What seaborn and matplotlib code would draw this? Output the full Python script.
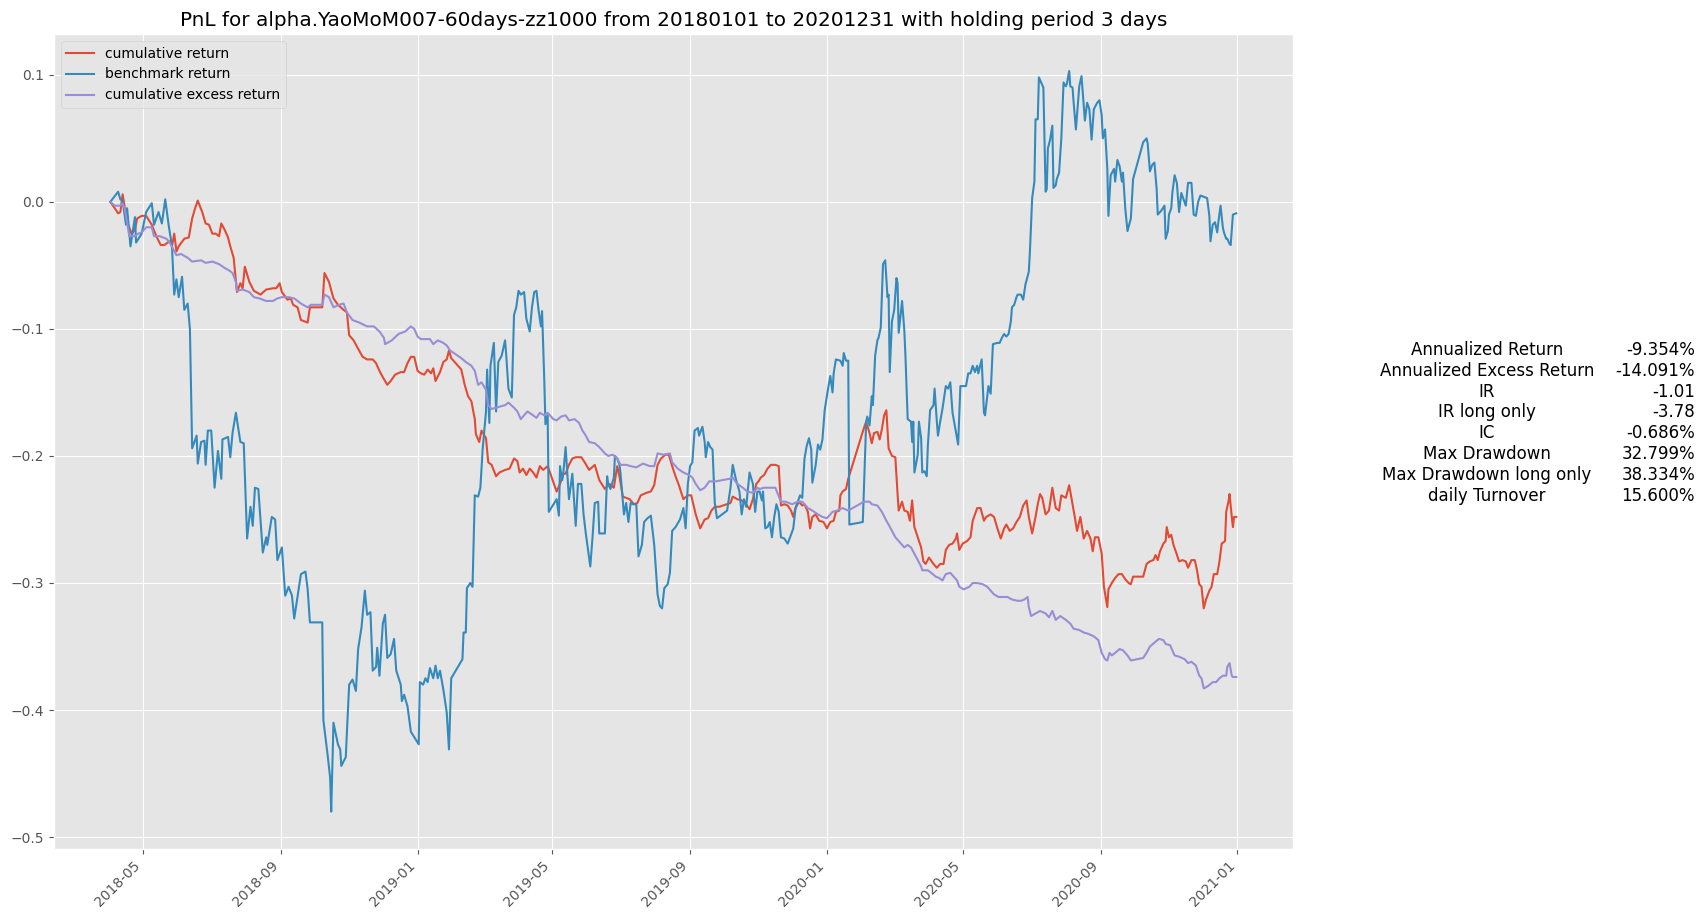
import pandas as pd
import matplotlib
matplotlib.use('Agg')
import matplotlib.pyplot as plt
import matplotlib.dates as mdates
import seaborn as sns

# values
bench_2018 = [
    ("2018-04-02", 0.0), ("2018-04-09", 0.008), ("2018-04-11", 0.002), ("2018-04-13", 0.001),
    ("2018-04-16", -0.018), ("2018-04-17", -0.005), ("2018-04-20", -0.035), ("2018-04-24", -0.012),
    ("2018-04-25", -0.032), ("2018-04-30", -0.025), ("2018-05-04", -0.008), ("2018-05-09", -0.001),
    ("2018-05-11", -0.018), ("2018-05-15", -0.008), ("2018-05-18", -0.017), ("2018-05-21", 0.002),
    ("2018-05-24", -0.018), ("2018-05-27", -0.035), ("2018-05-29", -0.073), ("2018-05-31", -0.061),
    ("2018-06-02", -0.075), ("2018-06-05", -0.059), ("2018-06-07", -0.085), ("2018-06-10", -0.080),
    ("2018-06-12", -0.100), ("2018-06-14", -0.194), ("2018-06-18", -0.184), ("2018-06-19", -0.206),
    ("2018-06-22", -0.189), ("2018-06-25", -0.188), ("2018-06-26", -0.207), ("2018-06-28", -0.180),
    ("2018-07-01", -0.180), ("2018-07-04", -0.225), ("2018-07-07", -0.196), ("2018-07-10", -0.218),
    ("2018-07-11", -0.187), ("2018-07-16", -0.185), ("2018-07-18", -0.201), ("2018-07-20", -0.182),
    ("2018-07-23", -0.166), ("2018-07-27", -0.189), ("2018-07-30", -0.190), ("2018-08-02", -0.265),
    ("2018-08-05", -0.240), ("2018-08-07", -0.255), ("2018-08-09", -0.225), ("2018-08-12", -0.226),
    ("2018-08-16", -0.276), ("2018-08-19", -0.264), ("2018-08-20", -0.270), ("2018-08-24", -0.248),
    ("2018-08-27", -0.250), ("2018-08-29", -0.282), ("2018-09-02", -0.272), ("2018-09-05", -0.310),
    ("2018-09-08", -0.303), ("2018-09-11", -0.310), ("2018-09-13", -0.328), ("2018-09-19", -0.293),
    ("2018-09-23", -0.291), ("2018-09-25", -0.305), ("2018-09-27", -0.331), ("2018-10-08", -0.331),
    ("2018-10-09", -0.408), ("2018-10-13", -0.437), ("2018-10-15", -0.453), ("2018-10-16", -0.480),
    ("2018-10-18", -0.410), ("2018-10-22", -0.427), ("2018-10-24", -0.431), ("2018-10-25", -0.444),
    ("2018-10-29", -0.437), ("2018-10-30", -0.417), ("2018-11-01", -0.380), ("2018-11-04", -0.376),
    ("2018-11-07", -0.385), ("2018-11-09", -0.352), ("2018-11-12", -0.335), ("2018-11-15", -0.306),
    ("2018-11-17", -0.325), ("2018-11-20", -0.323), ("2018-11-22", -0.369), ("2018-11-25", -0.366),
    ("2018-11-26", -0.351), ("2018-11-28", -0.373), ("2018-12-01", -0.332), ("2018-12-03", -0.325),
    ("2018-12-05", -0.359), ("2018-12-08", -0.356), ("2018-12-11", -0.344), ("2018-12-13", -0.369),
    ("2018-12-17", -0.380), ("2018-12-18", -0.393), ("2018-12-20", -0.388), ("2018-12-23", -0.397),
    ("2018-12-26", -0.417),
]
bench_2019 = [
    ("2019-01-02", -0.427), ("2019-01-03", -0.378), ("2019-01-06", -0.380), ("2019-01-08", -0.375),
    ("2019-01-10", -0.378), ("2019-01-12", -0.367), ("2019-01-15", -0.375), ("2019-01-17", -0.365),
    ("2019-01-19", -0.375), ("2019-01-21", -0.369), ("2019-01-24", -0.384), ("2019-01-27", -0.402),
    ("2019-01-29", -0.431), ("2019-01-31", -0.375), ("2019-02-10", -0.360), ("2019-02-11", -0.339),
    ("2019-02-13", -0.339), ("2019-02-14", -0.304), ("2019-02-17", -0.300), ("2019-02-19", -0.303),
    ("2019-02-21", -0.231), ("2019-02-24", -0.232), ("2019-02-26", -0.225), ("2019-02-28", -0.195),
    ("2019-03-03", -0.165), ("2019-03-04", -0.132), ("2019-03-06", -0.174), ("2019-03-07", -0.129),
    ("2019-03-10", -0.111), ("2019-03-12", -0.165), ("2019-03-14", -0.126), ("2019-03-17", -0.121),
    ("2019-03-20", -0.109), ("2019-03-21", -0.120), ("2019-03-23", -0.147), ("2019-03-26", -0.154),
    ("2019-03-28", -0.089), ("2019-03-30", -0.083), ("2019-04-01", -0.070), ("2019-04-03", -0.073),
    ("2019-04-06", -0.071), ("2019-04-08", -0.092), ("2019-04-11", -0.102), ("2019-04-13", -0.083),
    ("2019-04-15", -0.071), ("2019-04-17", -0.070), ("2019-04-19", -0.086), ("2019-04-21", -0.098),
    ("2019-04-22", -0.086), ("2019-04-24", -0.141), ("2019-04-25", -0.175), ("2019-04-27", -0.168),
    ("2019-04-28", -0.244), ("2019-05-05", -0.234), ("2019-05-07", -0.247), ("2019-05-08", -0.208),
    ("2019-05-10", -0.219), ("2019-05-11", -0.213), ("2019-05-13", -0.193), ("2019-05-16", -0.234),
    ("2019-05-19", -0.214), ("2019-05-22", -0.255), ("2019-05-24", -0.222), ("2019-05-27", -0.222),
    ("2019-05-29", -0.246), ("2019-05-31", -0.261), ("2019-06-04", -0.287), ("2019-06-06", -0.264),
    ("2019-06-08", -0.237), ("2019-06-11", -0.236), ("2019-06-12", -0.261), ("2019-06-17", -0.261),
    ("2019-06-19", -0.216), ("2019-06-20", -0.222), ("2019-06-22", -0.226), ("2019-06-25", -0.217),
    ("2019-06-26", -0.200), ("2019-06-28", -0.202), ("2019-06-30", -0.207), ("2019-07-01", -0.214),
    ("2019-07-04", -0.246), ("2019-07-06", -0.237), ("2019-07-08", -0.252), ("2019-07-10", -0.237),
    ("2019-07-12", -0.238), ("2019-07-15", -0.238), ("2019-07-17", -0.279), ("2019-07-20", -0.270),
    ("2019-07-22", -0.252), ("2019-07-25", -0.249), ("2019-07-28", -0.247), ("2019-07-31", -0.270),
    ("2019-08-03", -0.309), ("2019-08-05", -0.318), ("2019-08-07", -0.320), ("2019-08-09", -0.304),
    ("2019-08-12", -0.301), ("2019-08-14", -0.292), ("2019-08-16", -0.259), ("2019-08-19", -0.256),
    ("2019-08-21", -0.253), ("2019-08-23", -0.250), ("2019-08-26", -0.241), ("2019-08-28", -0.257),
    ("2019-08-30", -0.222), ("2019-09-01", -0.208), ("2019-09-03", -0.205), ("2019-09-05", -0.180),
    ("2019-09-08", -0.178), ("2019-09-09", -0.184), ("2019-09-12", -0.177), ("2019-09-14", -0.189),
    ("2019-09-15", -0.201), ("2019-09-17", -0.189), ("2019-09-19", -0.193), ("2019-09-21", -0.195),
    ("2019-09-23", -0.237), ("2019-09-25", -0.249), ("2019-09-28", -0.247), ("2019-10-04", -0.243),
    ("2019-10-07", -0.225), ("2019-10-09", -0.207), ("2019-10-12", -0.219), ("2019-10-15", -0.228),
    ("2019-10-17", -0.246), ("2019-10-19", -0.234), ("2019-10-21", -0.240), ("2019-10-24", -0.213),
    ("2019-10-27", -0.222), ("2019-10-29", -0.244), ("2019-10-31", -0.228), ("2019-11-02", -0.228),
    ("2019-11-04", -0.235), ("2019-11-05", -0.228), ("2019-11-07", -0.257), ("2019-11-09", -0.256),
    ("2019-11-11", -0.252), ("2019-11-13", -0.264), ("2019-11-15", -0.248), ("2019-11-17", -0.238),
    ("2019-11-19", -0.244), ("2019-11-21", -0.264), ("2019-11-24", -0.265), ("2019-11-27", -0.269),
    ("2019-11-30", -0.262), ("2019-12-02", -0.257), ("2019-12-04", -0.241), ("2019-12-08", -0.231),
    ("2019-12-10", -0.233), ("2019-12-12", -0.202), ("2019-12-14", -0.192), ("2019-12-16", -0.186),
    ("2019-12-18", -0.195), ("2019-12-19", -0.221), ("2019-12-22", -0.207), ("2019-12-24", -0.191),
    ("2019-12-26", -0.195), ("2019-12-28", -0.187), ("2019-12-30", -0.164),
]
bench_2020 = [
    ("2020-01-02", -0.147), ("2020-01-04", -0.137), ("2020-01-06", -0.150), ("2020-01-07", -0.135),
    ("2020-01-09", -0.124), ("2020-01-13", -0.125), ("2020-01-15", -0.129), ("2020-01-16", -0.119),
    ("2020-01-18", -0.125), ("2020-01-20", -0.125), ("2020-01-21", -0.254), ("2020-02-02", -0.252),
    ("2020-02-05", -0.173), ("2020-02-06", -0.169), ("2020-02-08", -0.176), ("2020-02-10", -0.153),
    ("2020-02-11", -0.160), ("2020-02-13", -0.121), ("2020-02-15", -0.109), ("2020-02-16", -0.107),
    ("2020-02-18", -0.099), ("2020-02-20", -0.049), ("2020-02-22", -0.046), ("2020-02-24", -0.075),
    ("2020-02-25", -0.073), ("2020-02-26", -0.134), ("2020-02-28", -0.094), ("2020-03-01", -0.085),
    ("2020-03-03", -0.060), ("2020-03-04", -0.064), ("2020-03-05", -0.103), ("2020-03-08", -0.078),
    ("2020-03-10", -0.101), ("2020-03-11", -0.121), ("2020-03-13", -0.171), ("2020-03-16", -0.173),
    ("2020-03-17", -0.189), ("2020-03-18", -0.173), ("2020-03-19", -0.213), ("2020-03-22", -0.199),
    ("2020-03-23", -0.173), ("2020-03-25", -0.186), ("2020-03-26", -0.213), ("2020-03-28", -0.212),
    ("2020-03-30", -0.216), ("2020-03-31", -0.192), ("2020-04-02", -0.164), ("2020-04-05", -0.160),
    ("2020-04-06", -0.147), ("2020-04-08", -0.173), ("2020-04-09", -0.184), ("2020-04-11", -0.173),
    ("2020-04-13", -0.163), ("2020-04-16", -0.145), ("2020-04-18", -0.147), ("2020-04-20", -0.142),
    ("2020-04-22", -0.166), ("2020-04-25", -0.181), ("2020-04-27", -0.191), ("2020-04-29", -0.145),
    ("2020-05-04", -0.145), ("2020-05-06", -0.135), ("2020-05-08", -0.135), ("2020-05-10", -0.129),
    ("2020-05-12", -0.134), ("2020-05-14", -0.129), ("2020-05-15", -0.135), ("2020-05-18", -0.124),
    ("2020-05-20", -0.166), ("2020-05-21", -0.168), ("2020-05-23", -0.153), ("2020-05-24", -0.145),
    ("2020-05-26", -0.151), ("2020-05-28", -0.112), ("2020-06-01", -0.111), ("2020-06-03", -0.111),
    ("2020-06-05", -0.107), ("2020-06-07", -0.104), ("2020-06-09", -0.106), ("2020-06-11", -0.104),
    ("2020-06-13", -0.094), ("2020-06-14", -0.083), ("2020-06-16", -0.081), ("2020-06-18", -0.075),
    ("2020-06-19", -0.073), ("2020-06-22", -0.073), ("2020-06-24", -0.077), ("2020-06-26", -0.065),
    ("2020-06-29", -0.055), ("2020-06-30", -0.039), ("2020-07-02", 0.003), ("2020-07-04", 0.016),
    ("2020-07-05", 0.065), ("2020-07-07", 0.065), ("2020-07-08", 0.098), ("2020-07-10", 0.094),
    ("2020-07-12", 0.090), ("2020-07-14", 0.008), ("2020-07-15", 0.010), ("2020-07-16", 0.042),
    ("2020-07-18", 0.049), ("2020-07-20", 0.060), ("2020-07-21", 0.011), ("2020-07-23", 0.013),
    ("2020-07-24", 0.018), ("2020-07-26", 0.023), ("2020-07-28", 0.050), ("2020-07-30", 0.094),
    ("2020-08-01", 0.091), ("2020-08-02", 0.093), ("2020-08-04", 0.103), ("2020-08-05", 0.091),
    ("2020-08-07", 0.090), ("2020-08-08", 0.078), ("2020-08-10", 0.057), ("2020-08-13", 0.091),
    ("2020-08-15", 0.099), ("2020-08-18", 0.064), ("2020-08-20", 0.078), ("2020-08-22", 0.073),
    ("2020-08-24", 0.049), ("2020-08-26", 0.073), ("2020-08-29", 0.078), ("2020-08-31", 0.080),
    ("2020-09-02", 0.068), ("2020-09-03", 0.050), ("2020-09-05", 0.057), ("2020-09-07", 0.026),
    ("2020-09-08", -0.011), ("2020-09-10", 0.021), ("2020-09-13", 0.026), ("2020-09-14", 0.016),
    ("2020-09-16", 0.033), ("2020-09-18", 0.028), ("2020-09-20", 0.016), ("2020-09-21", 0.023),
    ("2020-09-23", -0.005), ("2020-09-25", -0.023), ("2020-09-28", -0.013), ("2020-09-30", 0.018),
    ("2020-10-09", 0.047), ("2020-10-12", 0.050), ("2020-10-13", 0.046), ("2020-10-15", 0.024),
    ("2020-10-17", 0.029), ("2020-10-19", 0.031), ("2020-10-21", 0.010), ("2020-10-22", -0.010),
    ("2020-10-25", -0.007), ("2020-10-28", -0.003), ("2020-10-29", -0.029), ("2020-10-31", -0.023),
    ("2020-11-01", -0.010), ("2020-11-03", -0.005), ("2020-11-04", 0.007), ("2020-11-06", 0.021),
    ("2020-11-08", 0.015), ("2020-11-10", -0.008), ("2020-11-12", 0.007), ("2020-11-14", 0.002),
    ("2020-11-16", -0.003), ("2020-11-18", 0.015), ("2020-11-21", 0.015), ("2020-11-23", -0.010),
    ("2020-11-25", -0.011), ("2020-11-27", 0.000), ("2020-11-29", 0.005), ("2020-12-02", 0.004),
    ("2020-12-05", 0.003), ("2020-12-07", -0.011), ("2020-12-08", -0.031), ("2020-12-10", -0.018),
    ("2020-12-12", -0.016), ("2020-12-14", -0.024), ("2020-12-15", -0.016), ("2020-12-17", -0.003),
    ("2020-12-19", -0.020), ("2020-12-20", -0.024), ("2020-12-22", -0.029), ("2020-12-23", -0.029),
    ("2020-12-25", -0.033), ("2020-12-26", -0.034), ("2020-12-28", -0.010), ("2020-12-31", -0.009),
]

cum_2018 = [
    ("2018-04-02", 0.0), ("2018-04-06", -0.005), ("2018-04-09", -0.009), ("2018-04-11", -0.008),
    ("2018-04-13", 0.006), ("2018-04-15", -0.005), ("2018-04-18", -0.018), ("2018-04-21", -0.025),
    ("2018-04-24", -0.022), ("2018-04-26", -0.013), ("2018-04-30", -0.011), ("2018-05-04", -0.011),
    ("2018-05-09", -0.018), ("2018-05-13", -0.027), ("2018-05-17", -0.034), ("2018-05-20", -0.034),
    ("2018-05-25", -0.031), ("2018-05-27", -0.035), ("2018-05-29", -0.025), ("2018-05-31", -0.039),
    ("2018-06-02", -0.035), ("2018-06-07", -0.029), ("2018-06-11", -0.028), ("2018-06-14", -0.013),
    ("2018-06-17", -0.004), ("2018-06-19", 0.001), ("2018-06-23", -0.008), ("2018-06-26", -0.017),
    ("2018-06-29", -0.018), ("2018-07-02", -0.025), ("2018-07-05", -0.025), ("2018-07-08", -0.027),
    ("2018-07-10", -0.017), ("2018-07-13", -0.022), ("2018-07-16", -0.028), ("2018-07-18", -0.035),
    ("2018-07-21", -0.044), ("2018-07-24", -0.071), ("2018-07-27", -0.064), ("2018-07-29", -0.068),
    ("2018-07-31", -0.051), ("2018-08-04", -0.063), ("2018-08-08", -0.070), ("2018-08-14", -0.073),
    ("2018-08-19", -0.069), ("2018-08-25", -0.068), ("2018-08-28", -0.068), ("2018-08-31", -0.064),
    ("2018-09-02", -0.071), ("2018-09-07", -0.077), ("2018-09-10", -0.076), ("2018-09-12", -0.081),
    ("2018-09-16", -0.083), ("2018-09-19", -0.093), ("2018-09-25", -0.095), ("2018-09-27", -0.083),
    ("2018-10-08", -0.083), ("2018-10-10", -0.056), ("2018-10-14", -0.063), ("2018-10-18", -0.076),
    ("2018-10-22", -0.081), ("2018-10-27", -0.085), ("2018-10-30", -0.087), ("2018-11-01", -0.105),
    ("2018-11-05", -0.109), ("2018-11-08", -0.114), ("2018-11-13", -0.122), ("2018-11-17", -0.124),
    ("2018-11-22", -0.124), ("2018-11-25", -0.127), ("2018-11-28", -0.133), ("2018-12-01", -0.138),
    ("2018-12-05", -0.144), ("2018-12-08", -0.141), ("2018-12-12", -0.136), ("2018-12-17", -0.134),
    ("2018-12-20", -0.134), ("2018-12-23", -0.127), ("2018-12-26", -0.122), ("2018-12-29", -0.122),
]
cum_2019 = [
    ("2019-01-01", -0.133), ("2019-01-04", -0.135), ("2019-01-07", -0.136), ("2019-01-10", -0.132),
    ("2019-01-13", -0.135), ("2019-01-15", -0.131), ("2019-01-17", -0.141), ("2019-01-21", -0.134),
    ("2019-01-24", -0.126), ("2019-01-27", -0.124), ("2019-01-29", -0.117), ("2019-01-31", -0.123),
    ("2019-02-09", -0.132), ("2019-02-12", -0.144), ("2019-02-15", -0.153), ("2019-02-18", -0.157),
    ("2019-02-21", -0.171), ("2019-02-22", -0.183), ("2019-02-25", -0.189), ("2019-02-27", -0.180),
    ("2019-03-01", -0.183), ("2019-03-03", -0.186), ("2019-03-05", -0.205), ("2019-03-08", -0.207),
    ("2019-03-12", -0.216), ("2019-03-15", -0.213), ("2019-03-20", -0.211), ("2019-03-24", -0.210),
    ("2019-03-28", -0.202), ("2019-03-31", -0.204), ("2019-04-02", -0.213), ("2019-04-05", -0.210),
    ("2019-04-08", -0.215), ("2019-04-11", -0.210), ("2019-04-14", -0.213), ("2019-04-17", -0.217),
    ("2019-04-20", -0.208), ("2019-04-23", -0.211), ("2019-04-27", -0.208), ("2019-05-05", -0.228),
    ("2019-05-08", -0.222), ("2019-05-11", -0.214), ("2019-05-13", -0.214), ("2019-05-16", -0.207),
    ("2019-05-19", -0.202), ("2019-05-22", -0.201), ("2019-05-27", -0.201), ("2019-05-30", -0.205),
    ("2019-06-03", -0.211), ("2019-06-08", -0.207), ("2019-06-12", -0.219), ("2019-06-17", -0.226),
    ("2019-06-21", -0.222), ("2019-06-25", -0.225), ("2019-06-28", -0.208), ("2019-06-30", -0.216),
    ("2019-07-03", -0.232), ("2019-07-09", -0.234), ("2019-07-13", -0.238), ("2019-07-16", -0.237),
    ("2019-07-19", -0.231), ("2019-07-24", -0.229), ("2019-07-28", -0.228), ("2019-07-31", -0.223),
    ("2019-08-03", -0.207), ("2019-08-06", -0.202), ("2019-08-10", -0.199), ("2019-08-13", -0.199),
    ("2019-08-16", -0.208), ("2019-08-19", -0.216), ("2019-08-22", -0.223), ("2019-08-26", -0.234),
    ("2019-08-30", -0.231), ("2019-09-02", -0.231), ("2019-09-06", -0.246), ("2019-09-10", -0.257),
    ("2019-09-14", -0.250), ("2019-09-17", -0.249), ("2019-09-20", -0.243), ("2019-09-23", -0.240),
    ("2019-09-27", -0.240), ("2019-10-07", -0.237), ("2019-10-09", -0.232), ("2019-10-13", -0.234),
    ("2019-10-17", -0.235), ("2019-10-21", -0.238), ("2019-10-24", -0.242), ("2019-10-27", -0.234),
    ("2019-10-30", -0.222), ("2019-11-01", -0.220), ("2019-11-03", -0.217), ("2019-11-06", -0.215),
    ("2019-11-09", -0.210), ("2019-11-12", -0.207), ("2019-11-16", -0.207), ("2019-11-19", -0.208),
    ("2019-11-21", -0.239), ("2019-11-24", -0.238), ("2019-11-27", -0.239), ("2019-11-30", -0.243),
    ("2019-12-02", -0.248), ("2019-12-04", -0.241), ("2019-12-07", -0.236), ("2019-12-10", -0.239),
    ("2019-12-12", -0.238), ("2019-12-15", -0.244), ("2019-12-17", -0.257), ("2019-12-19", -0.248),
    ("2019-12-22", -0.246), ("2019-12-25", -0.251), ("2019-12-29", -0.252),
]
cum_2020 = [
    ("2020-01-01", -0.257), ("2020-01-04", -0.252), ("2020-01-07", -0.251), ("2020-01-09", -0.244),
    ("2020-01-12", -0.243), ("2020-01-13", -0.231), ("2020-01-15", -0.228), ("2020-01-18", -0.226),
    ("2020-01-20", -0.218), ("2020-02-03", -0.178), ("2020-02-05", -0.173), ("2020-02-08", -0.182),
    ("2020-02-10", -0.190), ("2020-02-12", -0.182), ("2020-02-15", -0.181), ("2020-02-17", -0.187),
    ("2020-02-19", -0.179), ("2020-02-21", -0.168), ("2020-02-23", -0.164), ("2020-02-25", -0.194),
    ("2020-02-28", -0.200), ("2020-03-02", -0.201), ("2020-03-04", -0.230), ("2020-03-05", -0.243),
    ("2020-03-08", -0.236), ("2020-03-10", -0.243), ("2020-03-13", -0.244), ("2020-03-15", -0.251),
    ("2020-03-17", -0.235), ("2020-03-19", -0.256), ("2020-03-22", -0.264), ("2020-03-25", -0.272),
    ("2020-03-27", -0.283), ("2020-03-29", -0.285), ("2020-04-01", -0.280), ("2020-04-05", -0.285),
    ("2020-04-08", -0.288), ("2020-04-11", -0.285), ("2020-04-14", -0.285), ("2020-04-16", -0.274),
    ("2020-04-19", -0.270), ("2020-04-22", -0.269), ("2020-04-25", -0.265), ("2020-04-26", -0.261),
    ("2020-04-28", -0.274), ("2020-05-01", -0.269), ("2020-05-05", -0.267), ("2020-05-08", -0.264),
    ("2020-05-10", -0.251), ("2020-05-14", -0.241), ("2020-05-17", -0.241), ("2020-05-20", -0.251),
    ("2020-05-22", -0.248), ("2020-05-26", -0.246), ("2020-05-29", -0.248), ("2020-06-01", -0.257),
    ("2020-06-04", -0.265), ("2020-06-07", -0.257), ("2020-06-09", -0.254), ("2020-06-12", -0.259),
    ("2020-06-15", -0.257), ("2020-06-18", -0.252), ("2020-06-21", -0.248), ("2020-06-24", -0.239),
    ("2020-06-27", -0.235), ("2020-06-29", -0.248), ("2020-07-02", -0.261), ("2020-07-05", -0.248),
    ("2020-07-07", -0.238), ("2020-07-09", -0.230), ("2020-07-11", -0.233), ("2020-07-14", -0.246),
    ("2020-07-17", -0.243), ("2020-07-20", -0.225), ("2020-07-23", -0.241), ("2020-07-26", -0.243),
    ("2020-07-28", -0.231), ("2020-08-01", -0.233), ("2020-08-04", -0.223), ("2020-08-07", -0.238),
    ("2020-08-09", -0.248), ("2020-08-11", -0.259), ("2020-08-14", -0.248), ("2020-08-17", -0.265),
    ("2020-08-20", -0.259), ("2020-08-23", -0.265), ("2020-08-25", -0.275), ("2020-08-27", -0.264),
    ("2020-08-30", -0.264), ("2020-09-02", -0.277), ("2020-09-04", -0.303), ("2020-09-07", -0.319),
    ("2020-09-08", -0.305), ("2020-09-11", -0.300), ("2020-09-14", -0.296), ("2020-09-17", -0.293),
    ("2020-09-20", -0.293), ("2020-09-23", -0.297), ("2020-09-26", -0.300), ("2020-09-28", -0.301),
    ("2020-09-30", -0.295), ("2020-10-09", -0.295), ("2020-10-12", -0.285), ("2020-10-15", -0.283),
    ("2020-10-18", -0.282), ("2020-10-20", -0.278), ("2020-10-22", -0.282), ("2020-10-24", -0.275),
    ("2020-10-27", -0.269), ("2020-10-29", -0.267), ("2020-10-30", -0.256), ("2020-11-01", -0.264),
    ("2020-11-03", -0.262), ("2020-11-05", -0.270), ("2020-11-07", -0.275), ("2020-11-10", -0.283),
    ("2020-11-13", -0.282), ("2020-11-16", -0.283), ("2020-11-18", -0.288), ("2020-11-21", -0.282),
    ("2020-11-24", -0.282), ("2020-11-26", -0.290), ("2020-11-28", -0.301), ("2020-11-30", -0.303),
    ("2020-12-02", -0.320), ("2020-12-04", -0.313), ("2020-12-07", -0.306), ("2020-12-09", -0.303),
    ("2020-12-11", -0.293), ("2020-12-14", -0.293), ("2020-12-16", -0.283), ("2020-12-18", -0.269),
    ("2020-12-21", -0.267), ("2020-12-22", -0.244), ("2020-12-24", -0.236), ("2020-12-25", -0.230),
    ("2020-12-27", -0.248), ("2020-12-28", -0.256), ("2020-12-29", -0.248), ("2020-12-31", -0.248),
]

excess_2018 = [
    ("2018-04-02", 0.0), ("2018-04-06", -0.003), ("2018-04-11", -0.003), ("2018-04-13", -0.001),
    ("2018-04-15", -0.006), ("2018-04-19", -0.027), ("2018-04-24", -0.027), ("2018-04-27", -0.025),
    ("2018-04-30", -0.024), ("2018-05-04", -0.020), ("2018-05-09", -0.020), ("2018-05-11", -0.027),
    ("2018-05-16", -0.027), ("2018-05-22", -0.029), ("2018-05-25", -0.032), ("2018-05-28", -0.037),
    ("2018-05-31", -0.042), ("2018-06-04", -0.041), ("2018-06-10", -0.044), ("2018-06-14", -0.047),
    ("2018-06-22", -0.046), ("2018-06-26", -0.048), ("2018-07-02", -0.047), ("2018-07-08", -0.049),
    ("2018-07-13", -0.052), ("2018-07-17", -0.054), ("2018-07-20", -0.056), ("2018-07-23", -0.063),
    ("2018-07-24", -0.070), ("2018-07-29", -0.069), ("2018-08-04", -0.071), ("2018-08-08", -0.075),
    ("2018-08-13", -0.076), ("2018-08-19", -0.078), ("2018-08-25", -0.078), ("2018-08-29", -0.076),
    ("2018-09-02", -0.075), ("2018-09-08", -0.075), ("2018-09-13", -0.076), ("2018-09-19", -0.080),
    ("2018-09-25", -0.083), ("2018-09-28", -0.081), ("2018-10-08", -0.081), ("2018-10-10", -0.073),
    ("2018-10-14", -0.075), ("2018-10-18", -0.083), ("2018-10-23", -0.081), ("2018-10-27", -0.080),
    ("2018-10-30", -0.087), ("2018-11-04", -0.093), ("2018-11-10", -0.095), ("2018-11-17", -0.098),
    ("2018-11-23", -0.098), ("2018-11-28", -0.102), ("2018-12-02", -0.107), ("2018-12-03", -0.112),
    ("2018-12-09", -0.109), ("2018-12-15", -0.104), ("2018-12-21", -0.102), ("2018-12-26", -0.098),
    ("2018-12-29", -0.100),
]
excess_2019 = [
    ("2019-01-01", -0.106), ("2019-01-04", -0.108), ("2019-01-09", -0.108), ("2019-01-12", -0.108),
    ("2019-01-15", -0.112), ("2019-01-19", -0.109), ("2019-01-24", -0.111), ("2019-01-27", -0.113),
    ("2019-01-30", -0.117), ("2019-02-09", -0.123), ("2019-02-13", -0.126), ("2019-02-18", -0.129),
    ("2019-02-21", -0.133), ("2019-02-24", -0.144), ("2019-02-27", -0.142), ("2019-03-03", -0.148),
    ("2019-03-05", -0.160), ("2019-03-08", -0.163), ("2019-03-12", -0.162), ("2019-03-20", -0.160),
    ("2019-03-23", -0.158), ("2019-03-28", -0.162), ("2019-03-31", -0.165), ("2019-04-03", -0.171),
    ("2019-04-06", -0.168), ("2019-04-09", -0.165), ("2019-04-14", -0.168), ("2019-04-17", -0.170),
    ("2019-04-20", -0.166), ("2019-04-24", -0.168), ("2019-04-27", -0.166), ("2019-05-02", -0.171),
    ("2019-05-05", -0.172), ("2019-05-09", -0.169), ("2019-05-13", -0.168), ("2019-05-16", -0.172),
    ("2019-05-21", -0.171), ("2019-05-25", -0.174), ("2019-05-28", -0.180), ("2019-05-31", -0.184),
    ("2019-06-03", -0.189), ("2019-06-08", -0.190), ("2019-06-12", -0.193), ("2019-06-17", -0.198),
    ("2019-06-20", -0.200), ("2019-06-24", -0.199), ("2019-06-28", -0.202), ("2019-07-01", -0.207),
    ("2019-07-06", -0.207), ("2019-07-10", -0.208), ("2019-07-15", -0.209), ("2019-07-21", -0.206),
    ("2019-07-27", -0.208), ("2019-07-31", -0.208), ("2019-08-03", -0.198), ("2019-08-08", -0.199),
    ("2019-08-14", -0.198), ("2019-08-16", -0.205), ("2019-08-21", -0.210), ("2019-08-26", -0.213),
    ("2019-08-31", -0.215), ("2019-09-03", -0.217), ("2019-09-06", -0.222), ("2019-09-10", -0.227),
    ("2019-09-14", -0.225), ("2019-09-18", -0.220), ("2019-09-24", -0.220), ("2019-09-30", -0.219),
    ("2019-10-06", -0.218), ("2019-10-09", -0.217), ("2019-10-13", -0.222), ("2019-10-18", -0.225),
    ("2019-10-22", -0.228), ("2019-10-27", -0.229), ("2019-10-31", -0.225), ("2019-11-02", -0.226),
    ("2019-11-06", -0.225), ("2019-11-10", -0.225), ("2019-11-16", -0.225), ("2019-11-21", -0.236),
    ("2019-11-25", -0.236), ("2019-12-01", -0.238), ("2019-12-06", -0.236), ("2019-12-10", -0.236),
    ("2019-12-15", -0.241), ("2019-12-19", -0.243), ("2019-12-24", -0.246), ("2019-12-28", -0.248),
]
excess_2020 = [
    ("2020-01-01", -0.249), ("2020-01-06", -0.244), ("2020-01-10", -0.243), ("2020-01-15", -0.241),
    ("2020-01-20", -0.243), ("2020-02-03", -0.236), ("2020-02-08", -0.236), ("2020-02-10", -0.238),
    ("2020-02-15", -0.239), ("2020-02-19", -0.244), ("2020-02-23", -0.251), ("2020-02-25", -0.254),
    ("2020-02-28", -0.259), ("2020-03-02", -0.264), ("2020-03-05", -0.267), ("2020-03-10", -0.272),
    ("2020-03-13", -0.270), ("2020-03-16", -0.272), ("2020-03-19", -0.277), ("2020-03-22", -0.282),
    ("2020-03-25", -0.287), ("2020-03-26", -0.290), ("2020-03-31", -0.290), ("2020-04-03", -0.292),
    ("2020-04-07", -0.295), ("2020-04-10", -0.296), ("2020-04-13", -0.298), ("2020-04-16", -0.293),
    ("2020-04-20", -0.292), ("2020-04-23", -0.295), ("2020-04-26", -0.298), ("2020-04-28", -0.303),
    ("2020-05-02", -0.305), ("2020-05-07", -0.303), ("2020-05-10", -0.300), ("2020-05-14", -0.300),
    ("2020-05-19", -0.301), ("2020-05-23", -0.303), ("2020-05-26", -0.306), ("2020-05-29", -0.309),
    ("2020-06-02", -0.311), ("2020-06-05", -0.311), ("2020-06-10", -0.311), ("2020-06-14", -0.313),
    ("2020-06-19", -0.314), ("2020-06-22", -0.314), ("2020-06-25", -0.313), ("2020-06-28", -0.311),
    ("2020-06-29", -0.319), ("2020-07-01", -0.326), ("2020-07-05", -0.324), ("2020-07-09", -0.322),
    ("2020-07-14", -0.324), ("2020-07-17", -0.327), ("2020-07-20", -0.322), ("2020-07-23", -0.329),
    ("2020-07-27", -0.326), ("2020-08-01", -0.329), ("2020-08-05", -0.332), ("2020-08-08", -0.336),
    ("2020-08-13", -0.337), ("2020-08-17", -0.339), ("2020-08-21", -0.340), ("2020-08-26", -0.342),
    ("2020-08-30", -0.345), ("2020-09-02", -0.355), ("2020-09-05", -0.360), ("2020-09-07", -0.361),
    ("2020-09-09", -0.355), ("2020-09-11", -0.357), ("2020-09-14", -0.355), ("2020-09-18", -0.352),
    ("2020-09-21", -0.353), ("2020-09-25", -0.357), ("2020-09-28", -0.361), ("2020-10-09", -0.359),
    ("2020-10-12", -0.355), ("2020-10-15", -0.350), ("2020-10-19", -0.347), ("2020-10-23", -0.344),
    ("2020-10-27", -0.345), ("2020-10-29", -0.348), ("2020-11-02", -0.349), ("2020-11-06", -0.357),
    ("2020-11-10", -0.358), ("2020-11-15", -0.360), ("2020-11-18", -0.363), ("2020-11-21", -0.362),
    ("2020-11-25", -0.365), ("2020-11-28", -0.373), ("2020-11-30", -0.375), ("2020-12-02", -0.383),
    ("2020-12-06", -0.381), ("2020-12-10", -0.378), ("2020-12-13", -0.378), ("2020-12-16", -0.375),
    ("2020-12-19", -0.373), ("2020-12-22", -0.373), ("2020-12-23", -0.366), ("2020-12-25", -0.363),
    ("2020-12-27", -0.373), ("2020-12-28", -0.374), ("2020-12-31", -0.374),
]

series_names = ['cumulative return', 'benchmark return', 'cumulative excess return']
series_colors = ['#E24A33', '#348ABD', '#988ED5']

stat_names = ['Annualized Return', 'Annualized Excess Return', 'IR', 'IR long only', 'IC',
              'Max Drawdown', 'Max Drawdown long only', 'daily Turnover']
stat_values = ['-9.354%', '-14.091%', '-1.01', '-3.78', '-0.686%', '32.799%', '38.334%', '15.600%']

title = 'PnL for alpha.YaoMoM007-60days-zz1000 from 20180101 to 20201231 with holding period 3 days'


def to_frame(rows, name):
    df = pd.DataFrame(rows, columns=['date', 'value'])
    df['date'] = pd.to_datetime(df['date'])
    df['series'] = name
    return df


df = pd.concat([
    to_frame(cum_2018 + cum_2019 + cum_2020, series_names[0]),
    to_frame(bench_2018 + bench_2019 + bench_2020, series_names[1]),
    to_frame(excess_2018 + excess_2019 + excess_2020, series_names[2]),
], ignore_index=True)

plt.style.use('ggplot')
plt.rcParams['font.family'] = ['DejaVu Sans']

fig = plt.figure(figsize=(17.03, 9.19), dpi=100)
ax = fig.add_axes([0.0317, 0.0765, 0.7273, 0.8865])

sns.lineplot(data=df, x='date', y='value', hue='series', hue_order=series_names,
             palette=series_colors, estimator=None, errorbar=None, linewidth=1.5, ax=ax)
sns.move_legend(ax, 'upper left', title=None, fontsize=10)

ax.set_title(title, fontsize=14.4)
ax.set_xlabel('')
ax.set_ylabel('')
ax.xaxis.set_major_locator(mdates.MonthLocator(bymonth=[1, 5, 9]))
ax.xaxis.set_major_formatter(mdates.DateFormatter('%Y-%m'))
plt.setp(ax.get_xticklabels(), rotation=45, ha='right')

# stats block on the right
y0 = 0.619
step = 0.0226
for i, (n, v) in enumerate(zip(stat_names, stat_values)):
    fig.text(0.873, y0 - i * step, n, ha='center', va='center', fontsize=12)
    fig.text(0.9953, y0 - i * step, v, ha='right', va='center', fontsize=12)

fig.savefig('out.png', dpi=100)
